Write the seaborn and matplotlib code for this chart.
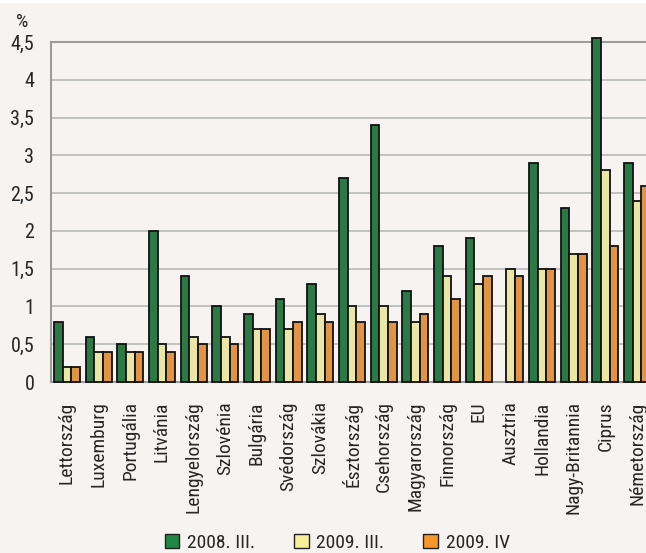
import numpy as np
import pandas as pd
import matplotlib
matplotlib.use('Agg')
import matplotlib.pyplot as plt
import matplotlib.patches as mpatches
import seaborn as sns

countries = ['Lettország', 'Luxemburg', 'Portugália', 'Litvánia', 'Lengyelország',
             'Szlovénia', 'Bulgária', 'Svédország', 'Szlovákia', 'Észtország',
             'Csehország', 'Magyarország', 'Finnország', 'EU', 'Ausztria',
             'Hollandia', 'Nagy-Britannia', 'Ciprus', 'Németország']
v2008_3 = [0.8, 0.6, 0.5, 2.0, 1.4, 1.0, 0.9, 1.1, 1.3, 2.7, 3.4, 1.2, 1.8, 1.9,
           np.nan, 2.9, 2.3, 4.55, 2.9]
v2009_3 = [0.2, 0.4, 0.4, 0.5, 0.6, 0.6, 0.7, 0.7, 0.9, 1.0, 1.0, 0.8, 1.4, 1.3,
           1.5, 1.5, 1.7, 2.8, 2.4]
v2009_4 = [0.2, 0.4, 0.4, 0.4, 0.5, 0.5, 0.7, 0.8, 0.8, 0.8, 0.8, 0.9, 1.1, 1.4,
           1.4, 1.5, 1.7, 1.8, 2.6]
series = ['2008. III.', '2009. III.', '2009. IV']
colors = ['#1E8742', '#F6F09A', '#F8962C']
yticks = [0, 0.5, 1, 1.5, 2, 2.5, 3, 3.5, 4, 4.5]

df = pd.DataFrame({'country': countries * 3,
                   'period': np.repeat(series, len(countries)),
                   'value': v2008_3 + v2009_3 + v2009_4})

sns.set_style('white')
plt.rcParams['font.family'] = ['Roboto Condensed', 'Liberation Sans', 'DejaVu Sans']

bg = '#F6F3F0'
fig = plt.figure(figsize=(6.46, 5.53), dpi=100, facecolor=bg)
ax = fig.add_axes([51/646, 1-382/553, 602/646, 340/553])
ax.set_facecolor(bg)

sns.barplot(data=df, x='country', y='value', hue='period', order=countries,
            hue_order=series, palette=colors, width=0.82, errorbar=None,
            edgecolor='#111111', linewidth=1.3, legend=False, ax=ax, zorder=3)
# Ciprus goes a bit over the top of the scale
for p in ax.patches:
    p.set_clip_on(False)

ax.set_xlim(-0.5, len(countries) - 0.5)
ax.set_ylim(0, 4.5)
ax.set_yticks(yticks)
ax.set_yticklabels([('%g' % t).replace('.', ',') for t in yticks], fontsize=14.5)
ax.yaxis.grid(True, color='#BDBDBD', linewidth=1.3, zorder=0)
ax.set_axisbelow(True)
ax.tick_params(axis='y', length=0, pad=12)
ax.tick_params(axis='x', length=0, pad=14, labelsize=14, labelrotation=90)
ax.set_xlabel('')
ax.set_ylabel('')
for side in ['left', 'bottom', 'top']:
    ax.spines[side].set_color('#9C9C9C')
    ax.spines[side].set_linewidth(1.5)
ax.spines['right'].set_visible(False)

fig.text(22/646, 1-22/553, '%', fontsize=14, ha='center', va='center')

handles = [mpatches.Patch(facecolor=c, edgecolor='#222222', linewidth=1) for c in colors]
fig.legend(handles, series, loc='center', bbox_to_anchor=(0.522, 1-543/553), ncol=3,
           frameon=False, fontsize=14, handlelength=0.75, handleheight=0.75,
           handletextpad=0.4, columnspacing=2.0)

fig.patches.append(mpatches.Rectangle((0, 1-3/553), 1, 3/553, transform=fig.transFigure,
                                      facecolor='white', edgecolor='none'))

fig.savefig('out.png', dpi=100, facecolor=bg)
